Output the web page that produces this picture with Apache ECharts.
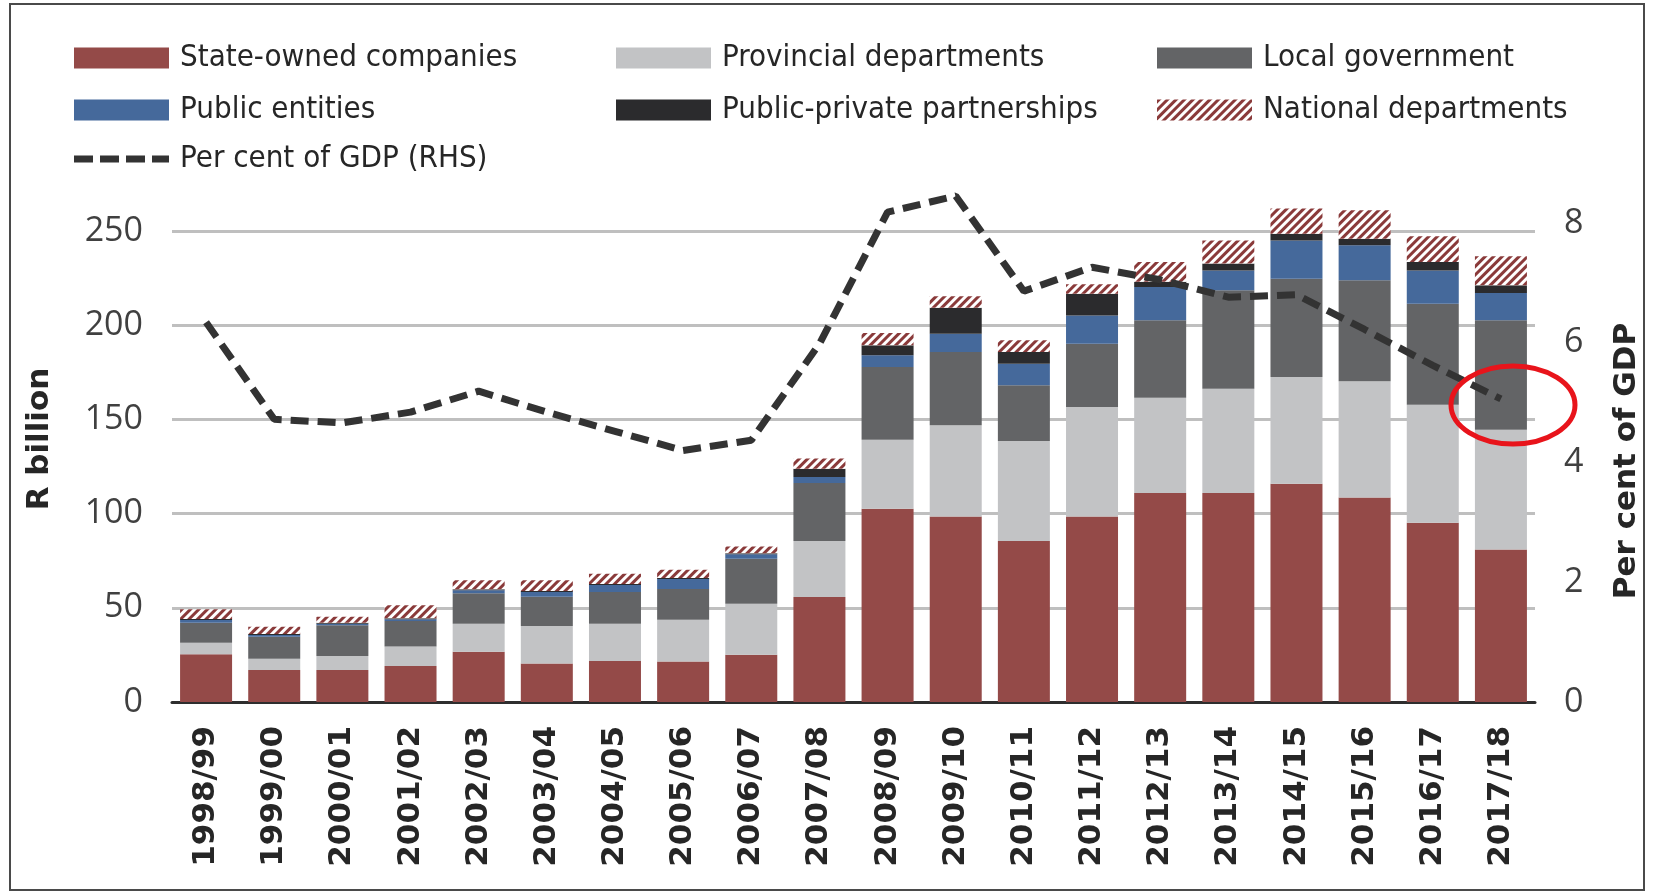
<!DOCTYPE html>
<html>
<head>
<meta charset="utf-8">
<script src="https://cdn.jsdelivr.net/npm/echarts@6/dist/echarts.min.js"></script>
<style>
  html, body { margin: 0; padding: 0; background: #fff; }
  #chart { width: 1657px; height: 893px; }
</style>
</head>
<body>
<div id="chart"></div>
<script>
// categories (financial years)
const years = ['1998/99','1999/00','2000/01','2001/02','2002/03','2003/04','2004/05','2005/06','2006/07','2007/08',
               '2008/09','2009/10','2010/11','2011/12','2012/13','2013/14','2014/15','2015/16','2016/17','2017/18'];

// R billion (bottom to top)
const stateOwned  = [25.3, 17.0, 17.0, 19.1, 26.7, 20.5, 21.8, 21.5, 25.1, 55.7, 102.6, 98.5, 85.5, 98.5, 110.9, 110.9, 115.9, 108.5, 95.2, 81.0];
const provincial  = [6.2, 6.0, 7.4, 10.3, 14.9, 19.8, 19.8, 22.1, 27.1, 29.8, 36.6, 48.4, 53.0, 58.1, 50.6, 55.4, 56.6, 61.7, 62.6, 63.5];
const localGov    = [10.6, 11.7, 16.3, 13.6, 16.1, 15.6, 16.8, 16.4, 23.9, 30.7, 38.6, 38.9, 29.6, 33.6, 41.1, 52.2, 52.2, 53.6, 53.6, 58.1];
const publicEnt   = [1.4, 0.9, 0.9, 0.9, 1.6, 2.5, 3.7, 5.3, 2.3, 3.2, 6.2, 9.7, 11.5, 15.0, 17.7, 10.5, 20.3, 18.6, 17.7, 14.5];
const ppp         = [0.5, 0.5, 0.5, 0.5, 0.5, 0.5, 0.5, 0.5, 0.6, 4.4, 5.3, 13.8, 6.2, 11.5, 2.7, 3.7, 3.6, 3.5, 4.4, 4.1];
const nationalDep = [5.2, 3.9, 3.2, 6.9, 4.8, 5.7, 5.5, 4.4, 3.6, 5.4, 6.6, 6.0, 6.2, 5.0, 10.5, 12.3, 13.3, 15.1, 13.7, 15.4];

// per cent of GDP (right axis)
const pctGdp = [6.34, 4.72, 4.66, 4.84, 5.19, 4.84, 4.52, 4.20, 4.37, 5.98, 8.18, 8.45, 6.86, 7.26, 7.05, 6.76, 6.80, 6.22, 5.62, 5.06];

// left axis 0..250; right axis labelled 0..8 but room left above 8 for the peak
const leftTicks = { min: 0, max: 250, interval: 50 };
const rightTicks = { min: 0, max: 9, interval: 2 };

const legendFont = "'DejaVu Sans Condensed', 'DejaVu Sans', sans-serif";
const numFont = "'Open Sans', sans-serif";
const boldFont = "'DejaVu Sans', Verdana, sans-serif";

function barSeries(name, data, color, extra) {
  return Object.assign({
    name: name,
    type: 'bar',
    stack: 'total',
    xAxisIndex: 0,
    yAxisIndex: 0,
    barWidth: 52,
    clip: false,
    itemStyle: { color: color },
    emphasis: { disabled: true },
    data: data
  }, extra || {});
}

function legendCol(left, top, items, iconH) {
  return {
    orient: 'vertical',
    left: left,
    top: top,
    padding: 0,
    itemWidth: 95,
    itemHeight: iconH || 21,
    itemGap: 12,
    textStyle: {
      fontFamily: legendFont, fontSize: 31, color: '#262626',
      lineHeight: 40, padding: [0, 0, 0, 6]
    },
    data: items
  };
}

// thick dashed swatch for the line legend
const dashIcon = 'path://M0,0h19v7h-19z M26,0h19v7h-19z M52,0h19v7h-19z M78,0h17v7h-17z';

const option = {
  animation: false,
  backgroundColor: '#fff',
  legend: [
    legendCol(74, 38, [
      { name: 'State-owned companies', icon: 'rect' },
      { name: 'Public entities', icon: 'rect' }
    ]),
    legendCol(74, 139, [
      { name: 'Per cent of GDP (RHS)', icon: dashIcon }
    ], 7),
    legendCol(616, 38, [
      { name: 'Provincial departments', icon: 'rect' },
      { name: 'Public-private partnerships', icon: 'rect' }
    ]),
    legendCol(1157, 38, [
      { name: 'Local government', icon: 'rect' },
      { name: 'National departments', icon: 'rect' }
    ])
  ],
  grid: [
    { left: 172, right: 122, top: 231, bottom: 191 },
    { left: 172, right: 122, top: 163, bottom: 191 }
  ],
  xAxis: [
    {
      type: 'category', gridIndex: 0, data: years,
      axisLine: { lineStyle: { color: '#2e2e2e', width: 3 } },
      axisTick: { show: false },
      axisLabel: {
        rotate: 90, interval: 0, margin: 24,
        fontFamily: boldFont, fontWeight: 'bold', fontSize: 31, color: '#262626'
      }
    },
    {
      type: 'category', gridIndex: 1, data: years, show: false
    }
  ],
  yAxis: [
    {
      type: 'value', gridIndex: 0,
      min: leftTicks.min, max: leftTicks.max, interval: leftTicks.interval,
      axisLine: { show: false }, axisTick: { show: false },
      axisLabel: { margin: 29, fontFamily: numFont, fontSize: 34, color: '#404040' },
      splitLine: { lineStyle: { color: '#bfbfbf', width: 3 } }
    },
    {
      type: 'value', gridIndex: 1, position: 'right',
      min: rightTicks.min, max: rightTicks.max, interval: rightTicks.interval,
      axisLine: { show: false }, axisTick: { show: false },
      axisLabel: { margin: 29, showMaxLabel: false, fontFamily: numFont, fontSize: 34, color: '#404040' },
      splitLine: { show: false }
    }
  ],
  series: [
    barSeries('State-owned companies', stateOwned, '#944a48'),
    barSeries('Provincial departments', provincial, '#c2c3c5'),
    barSeries('Local government', localGov, '#636466'),
    barSeries('Public entities', publicEnt, '#45699b'),
    barSeries('Public-private partnerships', ppp, '#2b2b2d'),
    barSeries('National departments', nationalDep, '#ffffff', {
      itemStyle: {
        color: '#ffffff',
        decal: {
          symbol: 'rect', symbolSize: 1, color: '#8a3a3a',
          dashArrayX: [1, 0], dashArrayY: [3, 3], rotation: -Math.PI / 4
        }
      }
    }),
    {
      name: 'Per cent of GDP (RHS)',
      type: 'line',
      xAxisIndex: 1,
      yAxisIndex: 1,
      symbol: 'none',
      clip: false,
      z: 5,
      itemStyle: { color: '#333333' },
      lineStyle: { color: '#333333', width: 7, type: [18, 9] },
      emphasis: { disabled: true },
      data: pctGdp
    }
  ],
  graphic: [
    {
      type: 'rect', silent: true, z: 100,
      shape: { x: 10, y: 4, width: 1634, height: 886 },
      style: { fill: 'none', stroke: '#4a4a4a', lineWidth: 2 }
    },
    {
      type: 'text', silent: true, x: 40, y: 439, rotation: Math.PI / 2,
      style: {
        text: 'R billion', align: 'center', verticalAlign: 'middle',
        font: "bold 31px 'DejaVu Sans', sans-serif", fill: '#262626'
      }
    },
    {
      type: 'text', silent: true, x: 1627, y: 461, rotation: Math.PI / 2,
      style: {
        text: 'Per cent of GDP', align: 'center', verticalAlign: 'middle',
        font: "bold 31px 'DejaVu Sans', sans-serif", fill: '#262626'
      }
    },
    {
      type: 'ellipse', silent: true, z: 50,
      shape: { cx: 1513, cy: 405, rx: 62, ry: 39 },
      style: { fill: 'none', stroke: '#e8141b', lineWidth: 5 }
    }
  ]
};

echarts.init(document.getElementById('chart')).setOption(option);
</script>
</body>
</html>
